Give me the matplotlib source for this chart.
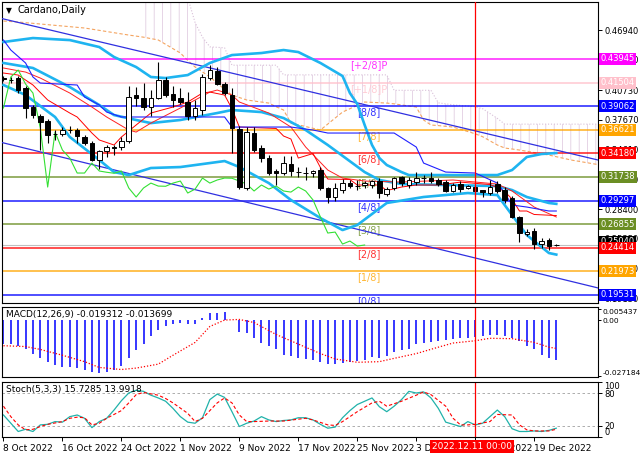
import numpy as np
import matplotlib.pyplot as plt
from matplotlib.transforms import blended_transform_factory

# ---- daily candles, Cardano, 8 Oct .. 22 Dec 2022 (index 0 = 8 Oct) ----
opens = [0.4197, 0.4177, 0.4197, 0.4094, 0.3897, 0.3804, 0.3752, 0.3618, 0.3618, 0.3659,
         0.3659, 0.3587, 0.3524, 0.3349, 0.3442, 0.3483, 0.3483, 0.3545, 0.4021, 0.3990,
         0.3897, 0.3990, 0.4177, 0.4032, 0.3990, 0.3949, 0.3804, 0.3866, 0.4197, 0.4270,
         0.4135, 0.4021, 0.3669, 0.3059, 0.3628, 0.3473, 0.3369, 0.3235, 0.3214, 0.3307,
         0.3224, 0.3214, 0.3214, 0.3245, 0.3059, 0.2966, 0.3038, 0.3110, 0.3079, 0.3090,
         0.3090, 0.3131, 0.2997, 0.3059, 0.3173, 0.3090, 0.3121, 0.3162, 0.3162, 0.3142,
         0.3121, 0.3028, 0.3100, 0.3059, 0.3069, 0.3038, 0.3007, 0.3100, 0.3038, 0.2955,
         0.2759, 0.2583, 0.2614, 0.2479, 0.2521, 0.2469]
highs = [0.4218, 0.4208, 0.4218, 0.4114, 0.3918, 0.3825, 0.3773, 0.3659, 0.3690, 0.3700,
         0.3680, 0.3607, 0.3545, 0.3452, 0.3504, 0.3504, 0.3587, 0.4114, 0.4104, 0.4145,
         0.4073, 0.4363, 0.4208, 0.4114, 0.4094, 0.4052, 0.3970, 0.4239, 0.4332, 0.4311,
         0.4156, 0.4094, 0.3700, 0.3690, 0.3690, 0.3504, 0.3400, 0.3255, 0.3390, 0.3390,
         0.3276, 0.3276, 0.3245, 0.3276, 0.3069, 0.3110, 0.3152, 0.3142, 0.3142, 0.3131,
         0.3142, 0.3162, 0.3069, 0.3173, 0.3183, 0.3173, 0.3224, 0.3193, 0.3224, 0.3162,
         0.3142, 0.3110, 0.3131, 0.3090, 0.3090, 0.3038, 0.3142, 0.3131, 0.3069, 0.2976,
         0.2769, 0.2634, 0.2645, 0.2541, 0.2541, 0.2479]
lows = [0.4166, 0.4145, 0.4042, 0.3783, 0.3783, 0.3452, 0.3524, 0.3556, 0.3597, 0.3628,
        0.3524, 0.3504, 0.3338, 0.3255, 0.3380, 0.3400, 0.3452, 0.3524, 0.3907, 0.3866,
        0.3804, 0.3980, 0.4001, 0.3897, 0.3928, 0.3763, 0.3763, 0.3814, 0.4177, 0.4125,
        0.4021, 0.3421, 0.3048, 0.3038, 0.3431, 0.3328, 0.3193, 0.3090, 0.3193, 0.3183,
        0.3173, 0.3142, 0.3173, 0.3038, 0.2903, 0.2924, 0.3007, 0.3059, 0.3038, 0.3059,
        0.3059, 0.2955, 0.2976, 0.3038, 0.3079, 0.3059, 0.3090, 0.3110, 0.3110, 0.3079,
        0.3017, 0.3017, 0.3017, 0.3048, 0.2976, 0.2966, 0.2986, 0.3007, 0.2903, 0.2748,
        0.2500, 0.2562, 0.2427, 0.2438, 0.2417, 0.2458]
closes = [0.4187, 0.4180, 0.4073, 0.3887, 0.3814, 0.3742, 0.3607, 0.3615, 0.3659, 0.3655,
          0.3597, 0.3524, 0.3349, 0.3442, 0.3483, 0.3480, 0.3545, 0.4001, 0.3990, 0.3897,
          0.3990, 0.4177, 0.4021, 0.3970, 0.3949, 0.3804, 0.3887, 0.4208, 0.4280, 0.4135,
          0.4042, 0.3680, 0.3069, 0.3638, 0.3452, 0.3369, 0.3214, 0.3214, 0.3317, 0.3235,
          0.3222, 0.3212, 0.3235, 0.3059, 0.2966, 0.3059, 0.3110, 0.3079, 0.3077, 0.3110,
          0.3131, 0.3007, 0.3048, 0.3162, 0.3110, 0.3142, 0.3162, 0.3160, 0.3131, 0.3100,
          0.3028, 0.3090, 0.3048, 0.3079, 0.3028, 0.3017, 0.3069, 0.3028, 0.2935, 0.2759,
          0.2593, 0.2603, 0.2479, 0.2510, 0.2458, 0.2469]

date_ticks = [0, 8, 16, 24, 32, 40, 48, 56, 64, 72]
date_labels = ["8 Oct 2022", "16 Oct 2022", "24 Oct 2022", "1 Nov 2022", "9 Nov 2022",
               "17 Nov 2022", "25 Nov 2022", "3 Dec 2022", "11 Dec 2022", "19 Dec 2022"]
cursor_day = 64
cursor_label = "2022.12.11 00:00"

# ---- Murrey math levels ----
mm_levels = [0.43945, 0.41504, 0.39062, 0.36621, 0.34180, 0.31738,
             0.29297, 0.26855, 0.24414, 0.21973, 0.19531]
mm_names = ["[+2/8]P", "[+1/8]P", "[8/8]", "[7/8]", "[6/8]", "[5/8]",
            "[4/8]", "[3/8]", "[2/8]", "[1/8]", "[0/8]"]
mm_colors = ["#FF00FF", "#FFC0CB", "#0000FF", "#FFA500", "#FF0000", "#6B8E23",
             "#0000FF", "#6B8E23", "#FF0000", "#FFA500", "#0000FF"]

# ---- Bollinger bands ----
bb_up_d = [0, 4, 9, 13, 15, 18, 20, 22, 25, 28, 31, 35, 38, 40, 43, 46, 47, 48, 49, 50,
           51, 52, 54, 55, 67, 69, 71, 73, 75]
bb_up = [0.4570, 0.4611, 0.4590, 0.4518, 0.4415, 0.4311, 0.4208, 0.4197, 0.4228, 0.4353,
         0.4435, 0.4456, 0.4487, 0.4466, 0.4353, 0.4218, 0.4042, 0.3928, 0.3711, 0.3504,
         0.3369, 0.3297, 0.3224, 0.3193, 0.3193, 0.3245, 0.3380, 0.3411, 0.3421]
bb_mid_d = [0, 4, 9, 13, 15, 18, 20, 24, 29, 31, 35, 38, 41, 44, 49, 51, 54, 67, 69, 71, 74, 75]
bb_mid = [0.4353, 0.4301, 0.4104, 0.3918, 0.3814, 0.3763, 0.3731, 0.3763, 0.3835, 0.3866,
          0.3845, 0.3783, 0.3659, 0.3504, 0.3224, 0.3142, 0.3100, 0.3079, 0.3038, 0.2966,
          0.2904, 0.2895]
bb_lo_d = [0, 3, 7, 9, 13, 15, 17, 20, 24, 30, 32, 36, 39, 43, 46, 48, 52, 57, 63, 67,
           69, 71, 74, 75]
bb_lo = [0.4125, 0.4021, 0.3794, 0.3587, 0.3349, 0.3224, 0.3193, 0.3266, 0.3276, 0.3338,
         0.3276, 0.3110, 0.2935, 0.2748, 0.2624, 0.2676, 0.2904, 0.2966, 0.3007, 0.2986,
         0.2779, 0.2572, 0.2386, 0.2370]

# ---- Ichimoku ----
kijun_d = [0, 1, 3, 4, 5, 10, 11, 13, 14, 16, 30, 31, 39, 42, 44, 53, 56, 57, 60, 64,
           67, 68, 69, 71, 74, 75]
kijun = [0.4591, 0.4487, 0.4353, 0.4208, 0.4145, 0.4125, 0.4001, 0.3918, 0.3845, 0.3794,
         0.3794, 0.3690, 0.3690, 0.3659, 0.3628, 0.3628, 0.3483, 0.3317, 0.3224, 0.3214,
         0.3110, 0.3007, 0.2883, 0.2862, 0.2821, 0.2821]
tenkan_d = [0, 2, 4, 6, 9, 10, 12, 13, 15, 16, 20, 23, 25, 27, 28, 30, 31, 32, 37, 38,
            39, 40, 42, 43, 44, 47, 48, 51, 52, 54, 56, 59, 60, 62, 66, 67, 68, 69, 70, 71,
            72, 75]
tenkan = [0.4249, 0.4228, 0.4125, 0.3970, 0.3835, 0.3794, 0.3628, 0.3556, 0.3504, 0.3587,
          0.3835, 0.3897, 0.3949, 0.4042, 0.4052, 0.4021, 0.3880, 0.3690, 0.3675, 0.3597,
          0.3566, 0.3369, 0.3416, 0.3271, 0.3152, 0.3147, 0.3090, 0.3090, 0.3033, 0.3069,
          0.3090, 0.3090, 0.3100, 0.3120, 0.3095, 0.3064, 0.3022, 0.2945, 0.2821, 0.2821,
          0.2785, 0.2774]
ma_d = [0, 3, 5, 9, 12, 14, 17, 18, 20, 24, 28, 29, 31, 32, 36, 39, 41, 44, 46, 49,
        54, 61, 67, 69, 72, 75]
ma = [0.4301, 0.4259, 0.4197, 0.4042, 0.3897, 0.3794, 0.3659, 0.3638, 0.3731, 0.3887,
      0.4052, 0.4073, 0.4021, 0.3949, 0.3835, 0.3690, 0.3483, 0.3245, 0.3162, 0.3131,
      0.3121, 0.3142, 0.3100, 0.3028, 0.2862, 0.2759]
span_d = [0, 2, 11, 17, 19, 21, 24, 25, 26, 27, 28, 30, 31, 33, 36, 37, 38, 39, 43, 46,
          49, 52, 53, 56, 57, 58, 59, 61, 64, 65, 67, 68, 70, 74, 77, 81]
span_a = [0.4787, 0.4777, 0.4715, 0.4642, 0.4620, 0.4591, 0.4456, 0.4380, 0.4311, 0.4260,
          0.4208, 0.4080, 0.4021, 0.3970, 0.3938, 0.3900, 0.3866, 0.3731, 0.3659, 0.3845,
          0.3949, 0.3938, 0.3930, 0.3897, 0.3763, 0.3711, 0.3705, 0.3690, 0.3620, 0.3590,
          0.3504, 0.3473, 0.3452, 0.3400, 0.3349, 0.3297]
span_b = [np.nan, np.nan, np.nan, np.nan, 0.515, 0.512, 0.508, 0.503, 0.477, 0.462,
          0.452, 0.451, 0.433, 0.433, 0.433, 0.433, 0.423, 0.423, 0.423, 0.423,
          0.423, 0.423, 0.407, 0.407, 0.407, 0.407, 0.394, 0.392, 0.390, 0.388,
          0.378, 0.372, 0.372, 0.372, 0.372, 0.372]
chikou_shift = 26

# ---- drawn trend channel (end points at the chart edges) ----
channel_d = [-0.5, 80.7]
channel_top = [0.4818, 0.3348]
channel_bottom = [0.3535, 0.2024]

price_ticks = [0.4694, 0.4388, 0.4073, 0.3767, 0.3461, 0.3149, 0.2840, 0.2535, 0.2229, 0.1913]

# ---- MACD(12,26,9) ----
macd = [-0.0116, -0.0116, -0.0124, -0.0139, -0.0162, -0.0182, -0.0201, -0.0219, -0.0229, -0.0229,
        -0.0232, -0.0239, -0.0250, -0.0255, -0.0250, -0.0239, -0.0224, -0.0182, -0.0147, -0.0116,
        -0.0077, -0.0049, -0.0031, -0.0020, -0.0015, -0.0020, -0.0020, 0.0008, 0.0036, 0.0036,
        0.0040, 0.0002, -0.0059, -0.0062, -0.0085, -0.0111, -0.0124, -0.0142, -0.0167, -0.0175,
        -0.0185, -0.0190, -0.0193, -0.0201, -0.0213, -0.0213, -0.0209, -0.0204, -0.0198, -0.0193,
        -0.0179, -0.0185, -0.0173, -0.0155, -0.0147, -0.0139, -0.0116, -0.0111, -0.0105, -0.0102,
        -0.0097, -0.0090, -0.0085, -0.0085, -0.0080, -0.0077, -0.0074, -0.0074, -0.0077, -0.0085,
        -0.0100, -0.0124, -0.0139, -0.0167, -0.0182, -0.0193]
signal_d = [0, 3, 5, 8, 11, 13, 16, 18, 21, 23, 26, 28, 30, 32, 34, 37, 40, 43, 45, 48,
            51, 53, 56, 59, 61, 64, 66, 69, 72, 74, 75]
signal = [-0.0124, -0.0128, -0.0142, -0.0170, -0.0201, -0.0229, -0.0239, -0.0232, -0.0213, -0.0170,
          -0.0108, -0.0031, 0.0000, 0.0003, -0.0012, -0.0070, -0.0116, -0.0162, -0.0188, -0.0204,
          -0.0201, -0.0185, -0.0162, -0.0131, -0.0111, -0.0100, -0.0088, -0.0090, -0.0108, -0.0131,
          -0.0137]

# ---- Stochastic(5,3,3) ----
stoch_k = [40, 25, 10, 14, 10, 22, 23, 28, 27, 37,
           40, 34, 17, 28, 34, 49, 66, 80, 85, 83,
           76, 71, 65, 52, 37, 27, 25, 35, 68, 78,
           72, 46, 19, 25, 29, 37, 31, 28, 30, 31,
           35, 35, 31, 23, 16, 18, 35, 48, 59, 65,
           71, 55, 46, 56, 68, 83, 80, 82, 71, 52,
           27, 23, 19, 28, 22, 25, 37, 49, 37, 15,
           10, 10, 11, 10, 12, 16]
stoch_d_idx = [0, 1, 2, 3, 4, 5, 6, 8, 9, 10, 11, 12, 13, 14, 16, 17, 18, 19, 21, 22,
               23, 25, 26, 27, 29, 30, 31, 32, 33, 34, 36, 38, 41, 42, 44, 45, 46, 48, 50, 51,
               52, 54, 56, 57, 58, 60, 61, 62, 63, 64, 66, 67, 69, 70, 71, 72, 74, 75]
stoch_d = [56, 37, 22, 13, 14, 19, 23, 28, 34, 36, 35, 22, 25, 34, 48, 62, 77, 81, 76, 70,
           62, 43, 28, 34, 62, 71, 62, 40, 28, 28, 29, 29, 34, 31, 22, 21, 28, 46, 62, 65,
           56, 65, 76, 82, 77, 56, 34, 22, 22, 23, 28, 41, 40, 22, 13, 11, 11, 14]

plt.rcParams['hatch.linewidth'] = 0.5
FS = 6.5     # general text
RS = 6.0     # right-hand scale labels
fig = plt.figure(figsize=(6.4, 4.57), dpi=100)
ax = fig.add_axes([0.0031, 0.337, 0.9313, 0.6586])
ax_m = fig.add_axes([0.0031, 0.1751, 0.9313, 0.1531])
ax_s = fig.add_axes([0.0031, 0.0438, 0.9313, 0.1203])
xlim = (-0.2, 80.66)

idx = np.arange(len(closes))
o, h, l, c = map(np.array, (opens, highs, lows, closes))

# Ichimoku cloud
ax.fill_between(span_d, span_a, span_b, facecolor='none', edgecolor='#DCC3DC',
                hatch='||', linewidth=0, zorder=1)
ax.plot(span_d, span_b, color='#D8BFD8', lw=0.8, ls=':', zorder=1)
ax.plot(span_d, span_a, color='#F4A460', lw=0.8, ls=(0, (3, 2)), zorder=1)

# Murrey lines + labels
for lev, name, col in zip(mm_levels, mm_names, mm_colors):
    ax.axhline(lev, color=col, lw=1.3, alpha=0.75, zorder=2)
    ax.text(49.5, lev - 0.0012, name, color=col, fontsize=7, ha='center', va='top',
            alpha=0.8, zorder=2, clip_on=True)

# current price line
ax.axhline(closes[-1], color='#C0C0C0', lw=0.8, zorder=2)

# channel
ax.plot(channel_d, channel_top, color='#3030E0', lw=0.9, zorder=3)
ax.plot(channel_d, channel_bottom, color='#3030E0', lw=0.9, zorder=3)

# Bollinger
for dd, vv in ((bb_up_d, bb_up), (bb_mid_d, bb_mid), (bb_lo_d, bb_lo)):
    ax.plot(dd, vv, color='#1EB4F0', lw=1.9, zorder=3, solid_joinstyle='round')

ax.plot(ma_d, ma, color='#FF2020', lw=0.7, zorder=4)
ax.plot(tenkan_d, tenkan, color='#FF0000', lw=0.7, zorder=4)
ax.plot(kijun_d, kijun, color='#2020FF', lw=0.8, zorder=4)
ax.plot(idx[:-chikou_shift], closes[chikou_shift:], color='#33E033', lw=0.8, zorder=4)

# candles
up = c >= o
ax.vlines(idx, l, h, color='black', lw=0.8, zorder=5)
body = np.maximum(np.abs(c - o), 0.0004)
ax.bar(idx, body, bottom=np.minimum(o, c) - np.where(np.abs(c - o) < 0.0004, 0.0002, 0),
       width=0.62, color=np.where(up, 'white', 'black'), edgecolor='black', lw=0.7, zorder=6)

ax.axvline(cursor_day, color='red', lw=0.9, zorder=7)
ax.set_xlim(*xlim)
ax.set_ylim(0.1869, 0.4984)
ax.set_xticks([])
ax.yaxis.tick_right()
ax.set_yticks(price_ticks)
ax.set_yticklabels([f"{v:.5f}" for v in price_ticks], fontsize=RS)
ax.tick_params(axis='y', length=3, pad=1.5, width=0.7)

ytr = ax.get_yaxis_transform()
for lev, col in zip(mm_levels, mm_colors):
    ax.text(1.004, lev, f"{lev:.5f}", transform=ytr, color='white', fontsize=RS,
            va='center', ha='left', zorder=20, clip_on=False,
            bbox=dict(boxstyle='square,pad=0.18', fc=col, ec='none'))
ax.text(1.004, closes[-1] + 0.0035, f"{closes[-1] + 0.0035:.5f}", transform=ytr, color='white',
        fontsize=RS, va='center', ha='left', zorder=19, clip_on=False,
        bbox=dict(boxstyle='square,pad=0.18', fc='black', ec='none'))

ax.text(0.012, 0.972, "\u25bc", transform=ax.transAxes, fontsize=5.5, va='center', ha='center')
ax.text(0.026, 0.972, "Cardano,Daily", transform=ax.transAxes, fontsize=7, va='center', ha='left')

# MACD panel
ax_m.vlines(idx, 0, macd, color='#0000FF', lw=1.1)
ax_m.plot(signal_d, signal, color='red', lw=0.9, ls=(0, (1, 1.5)))
ax_m.axvline(cursor_day, color='red', lw=0.9)
ax_m.set_xlim(*xlim)
ax_m.set_ylim(-0.0275, 0.0063)
ax_m.set_xticks([])
ax_m.yaxis.tick_right()
ax_m.set_yticks([0.005437, 0.0, -0.027184])
ax_m.set_yticklabels(["0.005437", "0.00", "-0.027184"], fontsize=5.4)
ax_m.get_yticklabels()[0].set_va('top')
ax_m.get_yticklabels()[2].set_va('bottom')
ax_m.tick_params(axis='y', length=2.5, pad=1, width=0.7)
ax_m.text(0.007, 0.9, "MACD(12,26,9) -0.019312 -0.013699", transform=ax_m.transAxes,
          fontsize=FS, va='center', ha='left')

# Stochastic panel
ax_s.axhline(80, color='#A0A0A0', lw=0.6, ls=(0, (3, 3)))
ax_s.axhline(20, color='#A0A0A0', lw=0.6, ls=(0, (3, 3)))
ax_s.plot(idx, stoch_k, color='#20B2AA', lw=0.9)
ax_s.plot(stoch_d_idx, stoch_d, color='red', lw=0.8, ls=(0, (3, 2)))
ax_s.axvline(cursor_day, color='red', lw=0.9)
ax_s.set_xlim(*xlim)
ax_s.set_ylim(0, 100)
ax_s.yaxis.tick_right()
ax_s.set_yticks([100, 80, 20, 0])
ax_s.set_yticklabels(["100", "80", "20", "0"], fontsize=RS)
ax_s.get_yticklabels()[0].set_va('top')
ax_s.get_yticklabels()[3].set_va('bottom')
ax_s.tick_params(axis='y', length=3, pad=1.5, width=0.7)
ax_s.set_xticks(date_ticks)
ax_s.set_xticklabels(date_labels, fontsize=FS, ha='left')
ax_s.tick_params(axis='x', length=3, pad=2, width=0.7)
ax_s.text(0.007, 0.86, "Stoch(5,3,3) 15.7285 13.9918", transform=ax_s.transAxes,
          fontsize=FS, va='center', ha='left')
btr = blended_transform_factory(ax_s.transData, ax_s.transAxes)
ax_s.text(cursor_day - 0.4, -0.17, cursor_label, transform=btr, color='white', fontsize=FS,
          ha='center', va='center', zorder=20, clip_on=False,
          bbox=dict(boxstyle='square,pad=0.2', fc='red', ec='none'))

for a in (ax, ax_m, ax_s):
    for sp in a.spines.values():
        sp.set_linewidth(0.8)

fig.savefig("out.png", dpi=100)
